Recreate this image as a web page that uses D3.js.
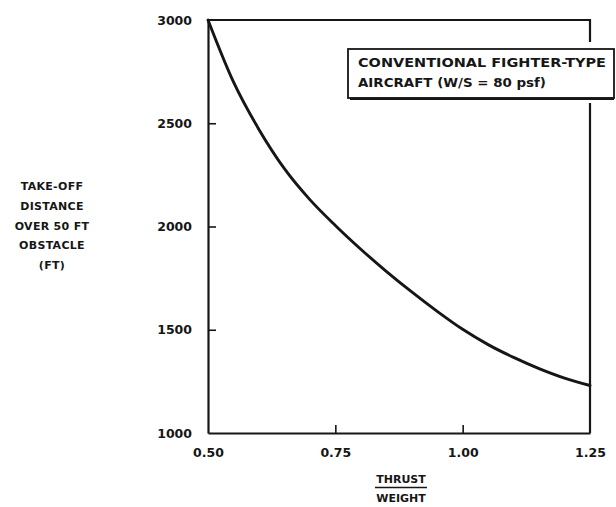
<!DOCTYPE html>
<html>
<head>
<meta charset="utf-8">
<script src="https://cdn.jsdelivr.net/npm/d3@7"></script>
<style>
  html, body { margin: 0; padding: 0; background: #ffffff; }
  svg { display: block; }
  text { font-family: "DejaVu Sans", sans-serif; font-weight: bold; fill: #161616; }
</style>
</head>
<body>
<svg id="chart" width="616" height="507"></svg>
<script>
// ---- data ----
const thrustToWeight = [0.50, 0.55, 0.60, 0.65, 0.70, 0.75, 0.80, 0.85, 0.90, 0.95, 1.00, 1.05, 1.10, 1.15, 1.20, 1.25];
const takeoffDistance = [3000, 2700, 2470, 2280, 2130, 2005, 1890, 1783, 1683, 1589, 1502, 1428, 1366, 1312, 1266, 1230];
const xTicks = [0.50, 0.75, 1.00, 1.25];
const yTicks = [1000, 1500, 2000, 2500, 3000];
const yTitleLines = ["TAKE-OFF", "DISTANCE", "OVER 50 FT", "OBSTACLE", "(FT)"];
const xTitleTop = "THRUST";
const xTitleBottom = "WEIGHT";
const noteLines = ["CONVENTIONAL FIGHTER-TYPE", "AIRCRAFT (W/S = 80 psf)"];

// ---- layout ----
const margin = { left: 208, right: 26, top: 20, bottom: 74 };
const W = 616, H = 507;
const svg = d3.select("#chart");
const ink = "#161616";

const x = d3.scaleLinear().domain([0.50, 1.25]).range([margin.left, W - margin.right]);
const y = d3.scaleLinear().domain([1000, 3000]).range([H - margin.bottom, margin.top]);

// left axis (inward ticks)
const yAxis = d3.axisLeft(y).tickValues(yTicks).tickFormat(d3.format("d"))
  .tickSizeInner(-8).tickSizeOuter(0).tickPadding(16);
const gy = svg.append("g").attr("transform", `translate(${margin.left},0)`).call(yAxis);
gy.select(".domain").attr("stroke", ink).attr("stroke-width", 2.2);
gy.selectAll(".tick line").attr("stroke", ink).attr("stroke-width", 1.6)
  .filter(d => d === 1000 || d === 3000).remove();
gy.selectAll(".tick text").attr("fill", ink).style("font-size", "12.5px")
  .style("font-family", "'DejaVu Sans', sans-serif").style("font-weight", "bold");

// bottom axis (inward ticks)
const xAxis = d3.axisBottom(x).tickValues(xTicks).tickFormat(d3.format(".2f"))
  .tickSizeInner(-8).tickSizeOuter(0).tickPadding(15);
const gx = svg.append("g").attr("transform", `translate(0,${y(1000)})`).call(xAxis);
gx.select(".domain").attr("stroke", ink).attr("stroke-width", 2.2);
gx.selectAll(".tick line").attr("stroke", ink).attr("stroke-width", 1.6)
  .filter(d => d === 0.50 || d === 1.25).remove();
gx.selectAll(".tick text").attr("fill", ink).style("font-size", "12.5px")
  .style("font-family", "'DejaVu Sans', sans-serif").style("font-weight", "bold");

// note box geometry
const box = { x0: 348, y0: 49, x1: 614, y1: 98 };

// frame: top and right (right broken by the note box)
svg.append("line").attr("x1", x(0.50)).attr("x2", x(1.25)).attr("y1", y(3000)).attr("y2", y(3000))
  .attr("stroke", ink).attr("stroke-width", 2.2);
svg.append("line").attr("x1", x(1.25)).attr("x2", x(1.25)).attr("y1", y(3000) - 1).attr("y2", box.y0 - 7)
  .attr("stroke", ink).attr("stroke-width", 2.2);
svg.append("line").attr("x1", x(1.25)).attr("x2", x(1.25)).attr("y1", box.y1 + 5).attr("y2", y(1000))
  .attr("stroke", ink).attr("stroke-width", 2.2);

// curve
const line = d3.line().x((d, i) => x(thrustToWeight[i])).y(d => y(d)).curve(d3.curveMonotoneX);
svg.append("path").datum(takeoffDistance).attr("d", line)
  .attr("fill", "none").attr("stroke", ink).attr("stroke-width", 2.9).attr("stroke-linecap", "round");

// note box
svg.append("rect").attr("x", box.x0).attr("y", box.y0).attr("width", box.x1 - box.x0).attr("height", box.y1 - box.y0)
  .attr("fill", "#fff").attr("stroke", ink).attr("stroke-width", 1.8);
svg.append("line").attr("x1", box.x0 + 2).attr("x2", box.x1).attr("y1", box.y1 + 0.8).attr("y2", box.y1 + 0.8)
  .attr("stroke", ink).attr("stroke-width", 2.4);
const noteLens = [248, 188];
noteLines.forEach((t, i) => {
  svg.append("text").attr("x", box.x0 + 10).attr("y", box.y0 + 18 + i * 19.5)
    .attr("textLength", noteLens[i]).attr("lengthAdjust", "spacingAndGlyphs")
    .style("font-size", "12.5px").text(t);
});

// y title
yTitleLines.forEach((t, i) => {
  svg.append("text").attr("x", 52).attr("y", 190 + i * 19.8).attr("text-anchor", "middle")
    .style("font-size", "11px").style("letter-spacing", "0.3px").text(t);
});

// x title as a fraction
const xc = (x(0.75) + x(1.00)) / 2 + 2;
svg.append("text").attr("x", xc).attr("y", 483).attr("text-anchor", "middle")
  .style("font-size", "11px").text(xTitleTop);
svg.append("line").attr("x1", xc - 26).attr("x2", xc + 26).attr("y1", 487.5).attr("y2", 487.5)
  .attr("stroke", ink).attr("stroke-width", 1.4);
svg.append("text").attr("x", xc).attr("y", 502).attr("text-anchor", "middle")
  .style("font-size", "11px").text(xTitleBottom);
</script>
</body>
</html>
